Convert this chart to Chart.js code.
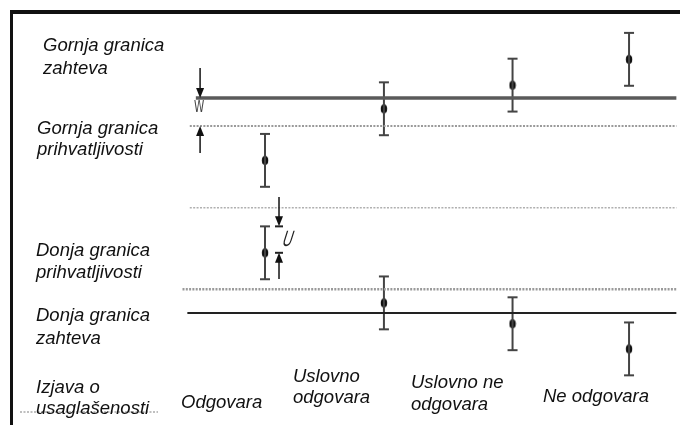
<!DOCTYPE html>
<html>
<head>
<meta charset="utf-8">
<script src="https://cdn.jsdelivr.net/npm/chart.js@4/dist/chart.umd.min.js"></script>
<style>
  body { margin: 0; background: #fff; }
  #grafik { display: block; }
</style>
</head>
<body>
<canvas id="grafik" width="680" height="425"></canvas>
<script>
// kategorije izjave o usaglasenosti (redovi teksta ispod)
const kategorije = [["Odgovara"], ["Uslovno", "odgovara"], ["Uslovno ne", "odgovara"], ["Ne odgovara"]];
const polozaji = [1, 1.98, 3.04, 4];

// rezultati merenja (% opsega zahteva) i merna nesigurnost U
const gornjiRezultati = [71, 95, 106, 118];
const donjiRezultati = [28, 4.7, -5, -16.7];
const nesigurnost = [12.3, 12.3, 12.3, 12.3];

// granice: gornja zahteva, gornja prihvatljivosti, sredina, donja prihvatljivosti, donja zahteva
const granice = [100, 87, 49, 11, 0];

// tekst sa leve strane
const oznakeGranica = [
    ["Gornja granica", "zahteva"],
    ["Gornja granica", "prihvatljivosti"],
    ["Donja granica", "prihvatljivosti"],
    ["Donja granica", "zahteva"],
    ["Izjava o", "usaglašenosti"]
];

const FONT = "italic 18.5px 'Liberation Sans', Arial, sans-serif";
const KRAJ = 4.39;

// stilovi linija granica
const stiloviGranica = [
    { start: 0.43, color: '#5a5a5a', width: 3.5, dash: [] },
    { start: 0.38, color: '#9a9a9a', width: 2, dash: [2, 1.4] },
    { start: 0.38, color: '#b0b0b0', width: 1.5, dash: [2, 1.4] },
    { start: 0.32, color: '#9a9a9a', width: 2.5, dash: [2, 1.3] },
    { start: 0.36, color: '#222', width: 2, dash: [] }
];

// tacka merenja - uspravna elipsa
const tacka = document.createElement('canvas');
tacka.width = 8;
tacka.height = 11;
(function () {
    const c = tacka.getContext('2d');
    c.fillStyle = '#111';
    c.beginPath();
    c.ellipse(4, 5.5, 3.2, 4.6, 0, 0, Math.PI * 2);
    c.fill();
})();

let datasets = [];

granice.forEach(function (v, i) {
    const s = stiloviGranica[i];
    datasets.push({
        data: [{ x: s.start, y: v }, { x: KRAJ, y: v }],
        showLine: true,
        borderColor: s.color,
        borderWidth: s.width,
        borderDash: s.dash,
        pointRadius: 0
    });
});

function dodajRezultate(vrednosti) {
    vrednosti.forEach(function (v, i) {
        const x = polozaji[i];
        const u = nesigurnost[i];
        datasets.push({
            data: [{ x: x, y: v - u }, { x: x, y: v + u }],
            showLine: true,
            borderColor: '#444',
            borderWidth: 2,
            pointStyle: 'line',
            pointRadius: 5,
            pointBorderWidth: 2,
            pointBorderColor: '#444'
        });
        datasets.push({
            data: [{ x: x, y: v }],
            pointStyle: tacka
        });
    });
}
dodajRezultate(gornjiRezultati);
dodajRezultate(donjiRezultati);

function strelica(ctx, x, rep, vrh, crtica) {
    const smer = vrh > rep ? 1 : -1;
    ctx.strokeStyle = '#222';
    ctx.fillStyle = '#111';
    ctx.lineWidth = 1.6;
    ctx.beginPath();
    ctx.moveTo(x, rep);
    ctx.lineTo(x, vrh - smer * 8);
    ctx.stroke();
    ctx.beginPath();
    ctx.moveTo(x - 4, vrh - smer * 10);
    ctx.lineTo(x + 4, vrh - smer * 10);
    ctx.lineTo(x, vrh);
    ctx.closePath();
    ctx.fill();
    if (crtica) {
        ctx.lineWidth = 2;
        ctx.beginPath();
        ctx.moveTo(x - 4, vrh);
        ctx.lineTo(x + 4, vrh);
        ctx.stroke();
    }
}

const dodaci = {
    id: 'dodaci',
    afterDraw: function (chart) {
        const ctx = chart.ctx;
        const xs = chart.scales.x;
        const ys = chart.scales.y;
        ctx.save();

        // okvir
        ctx.strokeStyle = '#111';
        ctx.lineWidth = 4;
        ctx.beginPath();
        ctx.moveTo(10, 12);
        ctx.lineTo(680, 12);
        ctx.stroke();
        ctx.lineWidth = 3;
        ctx.beginPath();
        ctx.moveTo(11.5, 10);
        ctx.lineTo(11.5, 425);
        ctx.stroke();
        ctx.strokeStyle = '#aaa';
        ctx.lineWidth = 1.5;
        ctx.setLineDash([2, 1.5]);
        ctx.beginPath();
        ctx.moveTo(20, 412);
        ctx.lineTo(158, 412);
        ctx.stroke();
        ctx.setLineDash([]);

        // W - zastitni pojas
        const xw = xs.getPixelForValue(0.465);
        strelica(ctx, xw, 68, ys.getPixelForValue(granice[0]), false);
        strelica(ctx, xw, 153, ys.getPixelForValue(granice[1]), false);
        ctx.fillStyle = '#444';
        ctx.font = "16px 'DejaVu Sans Condensed', sans-serif";
        ctx.textAlign = 'center';
        ctx.textBaseline = 'middle';
        ctx.save();
        ctx.translate(xw - 1, 108);
        ctx.scale(0.72, 1);
        ctx.fillText('W', 0, 0);
        ctx.restore();

        // U - merna nesigurnost
        const xu = xs.getPixelForValue(polozaji[0]) + 14;
        strelica(ctx, xu, 197, ys.getPixelForValue(donjiRezultati[0] + nesigurnost[0]), true);
        strelica(ctx, xu, 279, ys.getPixelForValue(donjiRezultati[0]), true);
        ctx.fillStyle = '#222';
        ctx.font = "italic 22px 'Liberation Sans', Arial, sans-serif";
        ctx.save();
        ctx.translate(xu + 9, 240);
        ctx.transform(0.62, 0, -0.2, 1, 0, 0);
        ctx.fillText('U', 0, 0);
        ctx.restore();

        // tekst
        ctx.fillStyle = '#111';
        ctx.font = FONT;
        ctx.textAlign = 'left';
        ctx.textBaseline = 'alphabetic';
        const levo = [[43, 51, 74], [37, 134, 155], [36, 256, 278], [36, 321, 344], [36, 393, 414]];
        oznakeGranica.forEach(function (red, i) {
            ctx.fillText(red[0], levo[i][0], levo[i][1]);
            ctx.fillText(red[1], levo[i][0], levo[i][2]);
        });
        const dole = [[181, 408], [293, 382, 403], [411, 388, 410], [543, 402]];
        kategorije.forEach(function (k, i) {
            k.forEach(function (t, j) {
                ctx.fillText(t, dole[i][0], dole[i][1 + j]);
            });
        });

        ctx.restore();
    }
};

new Chart(document.getElementById('grafik'), {
    type: 'scatter',
    data: { datasets: datasets },
    options: {
        responsive: false,
        animation: false,
        layout: { padding: 0, autoPadding: false },
        plugins: { legend: { display: false }, tooltip: { enabled: false } },
        scales: {
            x: { type: 'linear', display: false, min: -1.184, max: 4.42 },
            y: { type: 'linear', display: false, min: -52.1, max: 145.6 }
        }
    },
    plugins: [dodaci]
});
</script>
</body>
</html>
